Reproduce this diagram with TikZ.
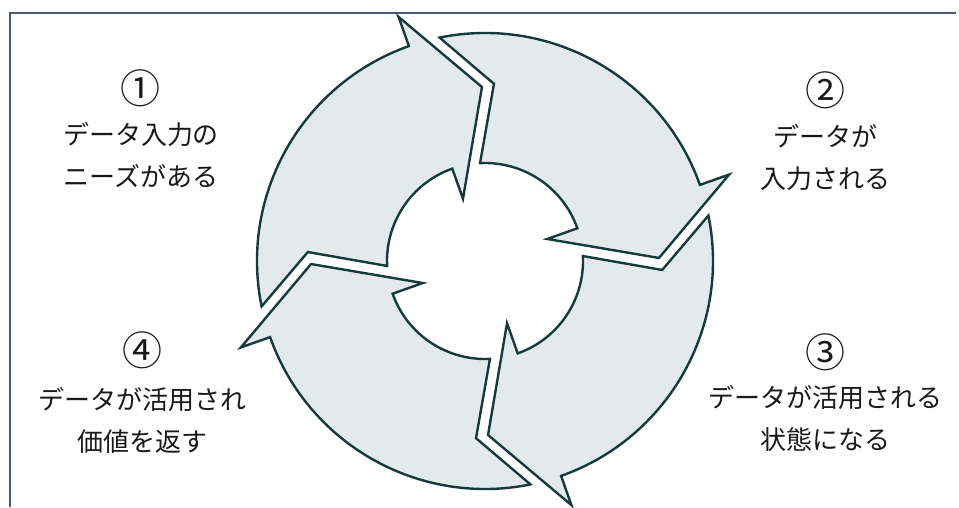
\documentclass[tikz,border=0pt]{standalone}
\usepackage{fontspec}
\newfontfamily\cjk{Noto Sans CJK JP}
\definecolor{cycfill}{HTML}{E2EAED}
\definecolor{cycline}{HTML}{163A3C}
\definecolor{framecol}{HTML}{4B5A75}
\begin{document}
\begin{tikzpicture}[x=1pt,y=1pt,
  cyc/.style={fill=cycfill, draw=cycline, line width=2.4pt, line join=miter},
  frameline/.style={draw=framecol, line width=1.6pt},
  lbl/.style={align=center, font=\cjk\fontsize{26}{42}\selectfont, text=black!90, inner sep=0pt},
  num/.style={font=\cjk\fontsize{40}{40}\selectfont, text=black!90, inner sep=0pt}]
\useasboundingbox (0,0) rectangle (959,507);
\draw[frameline] (10,0) -- (10,494) -- (956,494);
\begin{scope}[shift={(485,246)}]
\foreach \k in {0,1,2,3}{
  \begin{scope}[rotate=-90*\k]
    \draw[cyc] (191.5:228) arc[start angle=191.5, end angle=109.5, radius=228]
      -- (109.5:259) -- (91:174) -- (109.5:66) -- (109.5:98)
      arc[start angle=109.5, end angle=182.9, radius=98]
      -- (177.1:177.4) -- cycle;
  \end{scope}
}
\end{scope}
\node[num] (n1) at (140,419) {①};
\node[lbl] (l1) at (141,351.5) {データ入力の\\ニーズがある};
\node[num] (n2) at (825,417) {②};
\node[lbl] (l2) at (825,349.5) {データが\\入力される};
\node[num] (n3) at (825,155) {③};
\node[lbl] (l3) at (825,88.5) {データが活用される\\状態になる};
\node[num] (n4) at (142,157) {④};
\node[lbl] (l4) at (142,87) {データが活用され\\価値を返す};
\end{tikzpicture}
\end{document}
